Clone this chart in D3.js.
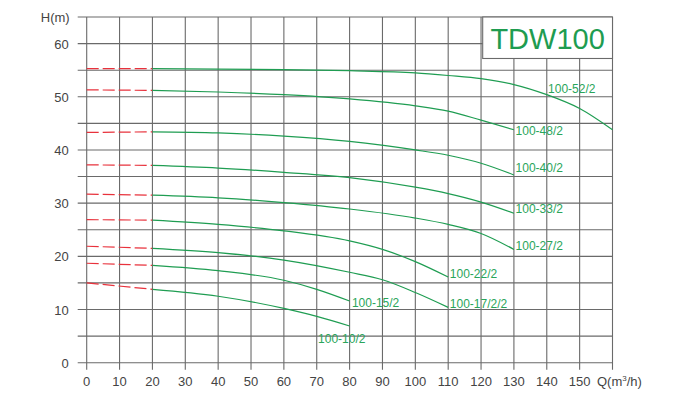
<!DOCTYPE html>
<html>
<head>
<meta charset="utf-8">
<script src="https://cdn.jsdelivr.net/npm/d3@7"></script>
<style>
  body { margin: 0; background: #fff; }
  text { font-family: "Liberation Sans", Arial, sans-serif; }
</style>
</head>
<body>
<div id="chart"></div>
<script>
// flow ticks and head ticks
var qTicks = [0, 10, 20, 30, 40, 50, 60, 70, 80, 90, 100, 110, 120, 130, 140, 150];
var hTicks = [0, 10, 20, 30, 40, 50, 60];

// pump curves: red dashed part is Q 0-20, green from 20 on
var names = ["100-52/2", "100-48/2", "100-40/2", "100-33/2", "100-27/2", "100-22/2", "100-17/2/2", "100-15/2", "100-10/2"];
var flows = [
  [0, 20, 40, 60, 80, 100, 110, 120, 130, 140, 150, 160],
  [0, 20, 40, 60, 80, 100, 110, 120, 130],
  [0, 20, 40, 60, 80, 100, 110, 120, 130],
  [0, 20, 40, 60, 80, 100, 110, 120, 130],
  [0, 20, 40, 60, 80, 100, 110, 120, 130],
  [0, 20, 40, 60, 80, 90, 100, 110],
  [0, 20, 40, 60, 80, 90, 100, 110],
  [0, 20, 40, 60, 70, 80],
  [0, 20, 40, 60, 70, 80]
];
var heads = [
  [55.3, 55.3, 55.2, 55.1, 54.9, 54.5, 54.0, 53.4, 52.3, 50.4, 47.8, 43.8],
  [51.3, 51.2, 50.9, 50.4, 49.6, 48.3, 47.3, 45.6, 43.8],
  [43.3, 43.4, 43.2, 42.6, 41.6, 40.0, 39.0, 37.5, 35.3],
  [37.2, 37.1, 36.6, 35.8, 34.8, 33.0, 31.8, 30.2, 28.1],
  [31.7, 31.5, 31.0, 30.1, 28.9, 27.2, 26.0, 24.3, 21.3],
  [26.9, 26.8, 26.0, 24.8, 22.9, 21.3, 19.0, 16.1],
  [21.9, 21.5, 20.7, 19.3, 17.0, 15.6, 13.2, 10.4],
  [18.7, 18.3, 17.3, 15.5, 13.8, 11.6],
  [15.0, 13.8, 12.5, 10.2, 8.7, 6.9]
];
// label anchor (Q, H)
var labelQ = [140.4, 130.5, 130.5, 130.5, 130.5, 110.5, 110.5, 80.7, 70.4];
var labelH = [50.7, 42.8, 35.8, 28.1, 21.2, 15.9, 10.3, 10.5, 3.7];

var W = 687, H = 398;
var x = d3.scaleLinear().domain([0, 160]).range([86.7, 612.5]);
var y = d3.scaleLinear().domain([0, 65]).range([362.7, 17]);

var svg = d3.select("#chart").append("svg")
  .attr("width", W).attr("height", H);

var gridColor = "#6a6a6a";

// vertical grid lines, every 10
svg.append("g").selectAll("line")
  .data(d3.range(0, 161, 10))
  .enter().append("line")
    .attr("x1", function(d) { return x(d); })
    .attr("x2", function(d) { return x(d); })
    .attr("y1", y(65))
    .attr("y2", y(0) + 7)
    .attr("stroke", gridColor)
    .attr("stroke-width", 1.1);

// horizontal grid lines, every 5
svg.append("g").selectAll("line")
  .data(d3.range(0, 66, 5))
  .enter().append("line")
    .attr("x1", x(0) - 9)
    .attr("x2", x(160))
    .attr("y1", function(d) { return y(d); })
    .attr("y2", function(d) { return y(d); })
    .attr("stroke", gridColor)
    .attr("stroke-width", 1.1);

// axis labels
svg.append("g").selectAll("text")
  .data(qTicks)
  .enter().append("text")
    .attr("x", function(d) { return x(d); })
    .attr("y", y(0) + 23)
    .attr("text-anchor", "middle")
    .attr("font-size", 13)
    .attr("fill", "#444")
    .text(function(d) { return d; });

svg.append("g").selectAll("text")
  .data(hTicks)
  .enter().append("text")
    .attr("x", x(0) - 18)
    .attr("y", function(d) { return y(d) + 5; })
    .attr("text-anchor", "end")
    .attr("font-size", 13)
    .attr("fill", "#444")
    .text(function(d) { return d; });

svg.append("text")
  .attr("x", x(0) - 17).attr("y", y(65) + 5)
  .attr("text-anchor", "end")
  .attr("font-size", 13).attr("fill", "#444")
  .text("H(m)");

var qt = svg.append("text")
  .attr("x", 597).attr("y", y(0) + 23)
  .attr("font-size", 13).attr("fill", "#444");
qt.append("tspan").text("Q(m");
qt.append("tspan").attr("font-size", 8).attr("dy", -5).text("3");
qt.append("tspan").attr("dy", 5).text("/h)");

// title box
svg.append("rect")
  .attr("x", x(120.5)).attr("y", y(65))
  .attr("width", x(160) - x(120.5))
  .attr("height", y(57.2) - y(65))
  .attr("fill", "#fff")
  .attr("stroke", gridColor)
  .attr("stroke-width", 1.1);
svg.append("text")
  .attr("x", (x(120.5) + x(160)) / 2)
  .attr("y", y(58.9))
  .attr("text-anchor", "middle")
  .attr("font-size", 29)
  .attr("fill", "#1e9c50")
  .text("TDW100");

var line = d3.line()
  .x(function(d) { return x(d[0]); })
  .y(function(d) { return y(d[1]); })
  .curve(d3.curveMonotoneX);

names.forEach(function(name, i) {
  var pts = flows[i].map(function(q, j) { return [q, heads[i][j]]; });
  var red = pts.filter(function(p) { return p[0] <= 20; });
  var green = pts.filter(function(p) { return p[0] >= 20; });

  svg.append("path")
    .attr("d", line(red))
    .attr("fill", "none")
    .attr("stroke", "#e8323c")
    .attr("stroke-width", 1.2)
    .attr("stroke-dasharray", "12,4");

  svg.append("path")
    .attr("d", line(green))
    .attr("fill", "none")
    .attr("stroke", "#1f9d52")
    .attr("stroke-width", 1.2);

  svg.append("text")
    .attr("x", x(labelQ[i]))
    .attr("y", y(labelH[i]))
    .attr("font-size", 12)
    .attr("fill", "#2aa55a")
    .text(name);
});
</script>
</body>
</html>
